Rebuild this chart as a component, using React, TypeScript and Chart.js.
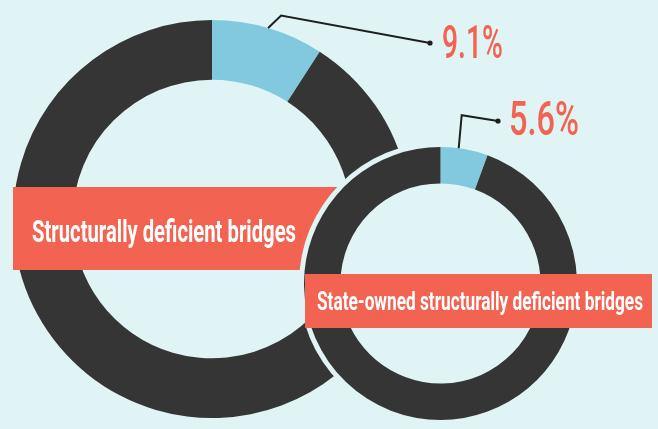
import React, { useEffect, useRef } from "react";
import { Chart, registerables } from "chart.js";

Chart.register(...registerables);

// ---- data ----
const allBridgesLabels = ["Structurally deficient", "Other bridges"];
const allBridgesValues = [9.1, 90.9];
const stateBridgesLabels = ["Structurally deficient", "Other state-owned bridges"];
const stateBridgesValues = [5.6, 94.4];
const chartTitles = [
  "Structurally deficient bridges",
  "State-owned structurally deficient bridges",
];

// ---- styles / layout ----
const W = 658;
const H = 429;
const BG = "#e0f3f5";
const DARK = "#353535";
const BLUE = "#82c8de";
const RED = "#f26351";
const LINE = "#1e1e1e";
const FONT = "Roboto, 'Noto Sans', sans-serif";

type Decor = {
  box: { x: number; y: number; w: number; h: number };
  title: { text: string; x: number; y: number; size: number; maxW: number };
  leader: { frac: number; elbowDx: number; elbowDy: number; endX: number; endY: number };
  pct: { x: number; y: number; size: number; maxW: number };
  ring: number; // background halo width around the doughnut (0 = none)
};

// draw text squeezed horizontally to a given width (condensed look)
function squeezeText(ctx: CanvasRenderingContext2D, text: string, x: number, y: number, w: number) {
  const natural = ctx.measureText(text).width;
  const s = natural > 0 ? w / natural : 1;
  ctx.save();
  ctx.translate(x, y);
  ctx.scale(s, 1);
  ctx.fillText(text, 0, 0);
  ctx.restore();
}

function makePlugin(id: string, values: number[], decor: Decor) {
  return {
    id,
    beforeDatasetsDraw(chart: any) {
      if (!decor.ring) return;
      const arc = chart.getDatasetMeta(0).data[0];
      if (!arc) return;
      const p = arc.getProps(["x", "y", "outerRadius"], true);
      const ctx = chart.ctx;
      ctx.save();
      ctx.fillStyle = BG;
      ctx.beginPath();
      ctx.arc(p.x, p.y, p.outerRadius + decor.ring, 0, Math.PI * 2);
      ctx.fill();
      ctx.restore();
    },
    afterDatasetsDraw(chart: any) {
      const ctx = chart.ctx;
      const arc = chart.getDatasetMeta(0).data[0];
      if (!arc) return;
      const p = arc.getProps(["x", "y", "startAngle", "endAngle", "outerRadius"], true);
      ctx.save();
      // title box
      ctx.fillStyle = RED;
      ctx.fillRect(decor.box.x, decor.box.y, decor.box.w, decor.box.h);
      ctx.fillStyle = "#ffffff";
      ctx.textBaseline = "alphabetic";
      ctx.textAlign = "left";
      ctx.font = `700 ${decor.title.size}px ${FONT}`;
      squeezeText(ctx, decor.title.text, decor.title.x, decor.title.y, decor.title.maxW);

      // leader line
      const a = p.startAngle + (p.endAngle - p.startAngle) * decor.leader.frac;
      const sx = p.x + Math.cos(a) * p.outerRadius;
      const sy = p.y + Math.sin(a) * p.outerRadius;
      const ex = sx + decor.leader.elbowDx;
      const ey = sy + decor.leader.elbowDy;
      ctx.strokeStyle = LINE;
      ctx.lineWidth = 2;
      ctx.lineJoin = "miter";
      ctx.beginPath();
      ctx.moveTo(sx, sy);
      ctx.lineTo(ex, ey);
      ctx.lineTo(decor.leader.endX, decor.leader.endY);
      ctx.stroke();
      ctx.fillStyle = LINE;
      ctx.beginPath();
      ctx.arc(decor.leader.endX, decor.leader.endY, 2.6, 0, Math.PI * 2);
      ctx.fill();

      // percentage
      ctx.fillStyle = RED;
      ctx.font = `500 ${decor.pct.size}px ${FONT}`;
      squeezeText(ctx, `${values[0]}%`, decor.pct.x, decor.pct.y, decor.pct.maxW);
      ctx.restore();
    },
  };
}

function DoughnutLayer(props: {
  labels: string[];
  values: number[];
  cutout: string;
  padding: { left: number; top: number; right: number; bottom: number };
  decor: Decor;
  id: string;
}) {
  const ref = useRef<HTMLCanvasElement | null>(null);
  useEffect(() => {
    if (!ref.current) return;
    const chart = new Chart(ref.current, {
      type: "doughnut",
      data: {
        labels: props.labels,
        datasets: [
          {
            data: props.values,
            backgroundColor: [BLUE, DARK],
            borderWidth: 0,
            hoverOffset: 0,
          },
        ],
      },
      options: {
        responsive: false,
        animation: false,
        events: [],
        cutout: props.cutout,
        layout: { padding: props.padding },
        plugins: { legend: { display: false }, tooltip: { enabled: false } },
      },
      plugins: [makePlugin(props.id, props.values, props.decor)],
    });
    return () => chart.destroy();
  }, []);
  return (
    <canvas
      ref={ref}
      width={W}
      height={H}
      style={{ position: "absolute", left: 0, top: 0, width: W, height: H }}
    />
  );
}

const bigDecor: Decor = {
  box: { x: 13, y: 187, w: 330, h: 83 },
  title: { text: chartTitles[0], x: 32, y: 242, size: 32, maxW: 264 },
  leader: { frac: 0.5, elbowDx: 13, elbowDy: -12.5, endX: 430, endY: 43 },
  pct: { x: 442, y: 58, size: 46, maxW: 61 },
  ring: 0,
};

const smallDecor: Decor = {
  box: { x: 305, y: 274, w: 347, h: 54 },
  title: { text: chartTitles[1], x: 317, y: 310, size: 25, maxW: 326 },
  leader: { frac: 0.38, elbowDx: 3, elbowDy: -33, endX: 498, endY: 121 },
  pct: { x: 509, y: 135, size: 48, maxW: 70 },
  ring: 5,
};

export default function App() {
  return (
    <div
      style={{
        position: "fixed",
        left: 0,
        top: 0,
        width: W,
        height: H,
        background: BG,
        overflow: "hidden",
      }}
    >
      <DoughnutLayer
        id="bigDecor"
        labels={allBridgesLabels}
        values={allBridgesValues}
        cutout="70%"
        padding={{ left: 13, top: 20, right: 247, bottom: 11 }}
        decor={bigDecor}
      />
      <DoughnutLayer
        id="smallDecor"
        labels={stateBridgesLabels}
        values={stateBridgesValues}
        cutout="73.3%"
        padding={{ left: 304, top: 147, right: 81, bottom: 9 }}
        decor={smallDecor}
      />
    </div>
  );
}
